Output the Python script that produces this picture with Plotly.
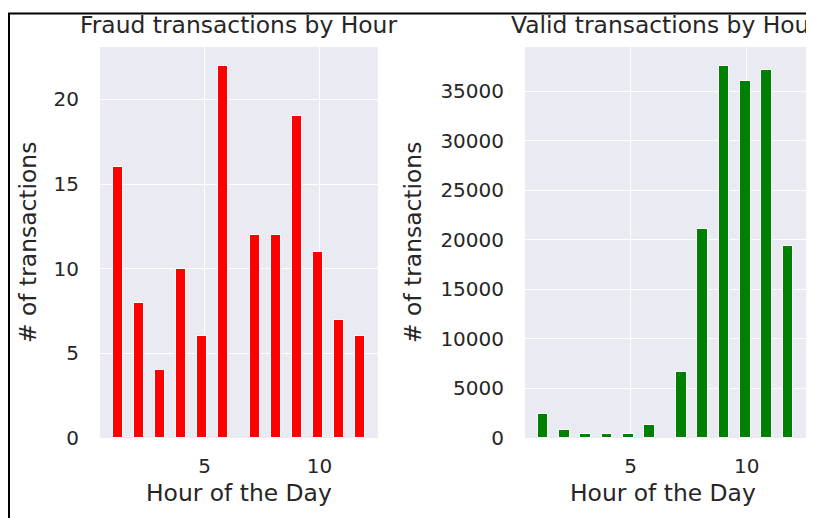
import numpy as np
import plotly.graph_objects as go

# ---- data ----
hours = [1, 2, 3, 4, 5, 6, 7, 8, 9, 10, 11, 12]
fraud_counts = [16, 8, 4, 10, 6, 22, 12, 12, 19, 11, 7, 6]
valid_counts = [2450, 780, 400, 400, 400, 1330, 6650, 21070, 37560, 36050, 37160, 19320]
n_bins = 24
x_ticks = [5, 10]
fraud_yticks = [0, 5, 10, 15, 20]
valid_yticks = [0, 5000, 10000, 15000, 20000, 25000, 30000, 35000]

OFF = 8  # page body margin in the browser
W, H = 814 - OFF, 518 - OFF
FONT = "DejaVu Sans"
TXT = "#262626"
BG = "#EAEAF2"


def hist_bars(values, weights):
    counts, edges = np.histogram(values, bins=n_bins, weights=weights)
    centers = (edges[:-1] + edges[1:]) / 2
    widths = np.diff(edges)
    keep = counts > 0
    return centers[keep], counts[keep], widths[keep]


fx, fy, fw = hist_bars(hours, fraud_counts)
vx, vy, vw = hist_bars(hours, valid_counts)

fig = go.Figure()
fig.add_trace(go.Bar(x=fx, y=fy, width=fw, marker=dict(color="red", line=dict(color="white", width=1)),
                     xaxis="x", yaxis="y", showlegend=False))
fig.add_trace(go.Bar(x=vx, y=vy, width=vw, marker=dict(color="green", line=dict(color="white", width=1)),
                     xaxis="x2", yaxis="y2", showlegend=False))

xmin, xmax = min(hours), max(hours)
pad = 0.05 * (xmax - xmin)
xr = [xmin - pad, xmax + pad]


def px(x):
    return (x - OFF) / W


def py(y):
    return 1 - (y - OFF) / H


ydom = [py(438), py(47)]
axis_common = dict(showline=False, zeroline=False, gridcolor="white", gridwidth=1.4,
                   tickfont=dict(family=FONT, size=20, color=TXT), automargin=False, ticks="")

fig.update_layout(
    width=W, height=H,
    margin=dict(l=0, r=0, t=0, b=0),
    paper_bgcolor="white", plot_bgcolor=BG,
    template="none",
    bargap=0,
    xaxis=dict(domain=[px(100), px(378)], range=xr, tickvals=x_ticks, anchor="y",
               ticklabelstandoff=14, **axis_common),
    yaxis=dict(domain=ydom, range=[0, max(fraud_counts) * 1.05], tickvals=fraud_yticks, anchor="x",
               ticklabelstandoff=20, **axis_common),
    xaxis2=dict(domain=[px(525), px(806)], range=xr, tickvals=x_ticks, anchor="y2",
                ticklabelstandoff=14, **axis_common),
    yaxis2=dict(domain=ydom, range=[0, max(valid_counts) * 1.05], tickvals=valid_yticks, anchor="x2",
                tickformat="d", ticklabelstandoff=20, **axis_common),
)

lab_font = dict(family=FONT, size=23.4, color=TXT)
ann = [
    dict(text="Fraud transactions by Hour", x=px(238.5), y=py(25), xanchor="center", yanchor="middle"),
    dict(text="Valid transactions by Hour", x=px(665), y=py(25), xanchor="center", yanchor="middle"),
    dict(text="Hour of the Day", x=px(238.5), y=py(493), xanchor="center", yanchor="middle"),
    dict(text="Hour of the Day", x=px(663), y=py(493), xanchor="center", yanchor="middle"),
    dict(text="# of transactions", x=px(28), y=py(243), xanchor="center", yanchor="middle", textangle=-90),
    dict(text="# of transactions", x=px(413), y=py(243), xanchor="center", yanchor="middle", textangle=-90),
]
for a in ann:
    fig.add_annotation(xref="paper", yref="paper", showarrow=False, font=lab_font, **a)

# frame border (left and top visible, as in the cropped reference)
fig.add_shape(type="rect", xref="paper", yref="paper",
              x0=px(9), x1=1.2, y0=-0.2, y1=py(13.5),
              line=dict(color="black", width=2), fillcolor="rgba(0,0,0,0)", layer="above")

fig.write_html("out.html")
